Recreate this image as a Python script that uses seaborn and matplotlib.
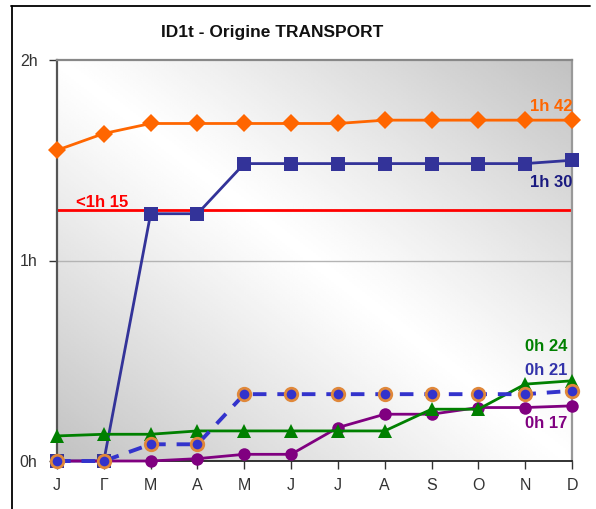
import numpy as np
import pandas as pd
import matplotlib
matplotlib.use("Agg")
import matplotlib.pyplot as plt
from matplotlib.lines import Line2D
import seaborn as sns

# months (tick labels as they appear on the chart)
months = ["J", "Γ", "M", "A", "M", "J", "J", "A", "S", "O", "N", "D"]

# values in minutes
orange_min = [93, 98, 101, 101, 101, 101, 101, 102, 102, 102, 102, 102]
navy_min = [0, 0, 74, 74, 89, 89, 89, 89, 89, 89, 89, 90]
green_min = [7.5, 8, 8, 9, 9, 9, 9, 9, 15.5, 15.5, 23, 24]
blue_min = [0, 0, 5, 5, 20, 20, 20, 20, 20, 20, 20, 21]
purple_min = [0, 0, 0, 0.7, 2, 2, 10, 14, 14, 16, 16, 16.5]
target_min = 75

sns.set_theme(style="white")
plt.rcParams["font.family"] = ["Liberation Sans", "DejaVu Sans"]

fig = plt.figure(figsize=(5.96, 5.09), dpi=100)
ax = fig.add_axes([57 / 596, 48 / 509, 515 / 596, 401 / 509])

# diagonal grey gradient background
u, v = np.meshgrid(np.linspace(0, 1, 200), np.linspace(0, 1, 200))
g = 1 - 0.24 * np.abs(u + v - 1) ** 1.1
ax.imshow(g, extent=[0, 1, 0, 1], transform=ax.transAxes, origin="lower",
          cmap="gray", vmin=0, vmax=1, aspect="auto", zorder=0,
          interpolation="bilinear")

x = np.arange(len(months))
df = pd.DataFrame({
    "x": x,
    "orange": np.array(orange_min) / 60,
    "navy": np.array(navy_min) / 60,
    "green": np.array(green_min) / 60,
    "blue": np.array(blue_min) / 60,
    "purple": np.array(purple_min) / 60,
})

ax.axhline(1, color="#b4b4b4", lw=1, zorder=1)
ax.axhline(target_min / 60, color="#ff0000", lw=2, zorder=2)

sns.lineplot(data=df, x="x", y="orange", ax=ax, color="#ff6600", lw=2,
             marker="D", markersize=9, markeredgewidth=0, zorder=3,
             clip_on=False)
sns.lineplot(data=df, x="x", y="navy", ax=ax, color="#333399", lw=2,
             marker="s", markersize=9.5, markeredgewidth=0, zorder=3,
             clip_on=False)
sns.lineplot(data=df, x="x", y="purple", ax=ax, color="#800080", lw=2,
             marker="o", markersize=9, markeredgewidth=0, zorder=4,
             clip_on=False)
sns.lineplot(data=df, x="x", y="green", ax=ax, color="#008000", lw=2,
             marker="^", markersize=10, markeredgewidth=0, zorder=4,
             clip_on=False)
sns.lineplot(data=df, x="x", y="blue", ax=ax, color="#3333cc", lw=2.8,
             linestyle=(0, (3.5, 2.8)), marker="o", markersize=9,
             markerfacecolor="#3333cc", markeredgecolor="#e0883a",
             markeredgewidth=2, zorder=5, clip_on=False)

ax.set_xlim(0, 11)
ax.set_ylim(0, 2)
ax.set_xticks(x)
ax.set_xticklabels(months)
ax.set_yticks([0, 1, 2])
ax.set_yticklabels(["0h", "1h", "2h"])
ax.set_xlabel("")
ax.set_ylabel("")
ax.tick_params(axis="both", which="both", direction="out", length=6,
               width=1, color="#333333", labelsize=11.5,
               labelcolor="#333333")
ax.tick_params(axis="x", pad=6, bottom=True)
ax.tick_params(axis="y", pad=8, left=True)

for side, col, lw in [("left", "#555555", 1.6), ("bottom", "#222222", 1.3),
                      ("top", "#888888", 1.6), ("right", "#999999", 1.6)]:
    ax.spines[side].set_color(col)
    ax.spines[side].set_linewidth(lw)
    ax.spines[side].set_visible(True)

# value labels
lab = dict(fontsize=12, fontweight="bold", va="center", zorder=6)
ax.text(11, 1.77, "1h 42", color="#ff6600", ha="right", **lab)
ax.text(11, 1.39, "1h 30", color="#1a1a80", ha="right", **lab)
ax.text(0.4, 1.29, "<1h 15", color="#ff0000", ha="left", **lab)
ax.text(10.9, 0.57, "0h 24", color="#008000", ha="right", **lab)
ax.text(10.9, 0.45, "0h 21", color="#3333aa", ha="right", **lab)
ax.text(10.9, 0.185, "0h 17", color="#800080", ha="right", **lab)

fig.text(272 / 596, 1 - 32 / 509, "ID1t - Origine TRANSPORT", ha="center",
         va="center", fontsize=12.5, fontweight="bold", color="#111111")

# outer frame (top and left only)
fig.add_artist(Line2D([11 / 596, 590 / 596], [1 - 6 / 509, 1 - 6 / 509],
                      transform=fig.transFigure, color="black", lw=1.3))
fig.add_artist(Line2D([12 / 596, 12 / 596], [1 - 6 / 509, 0],
                      transform=fig.transFigure, color="black", lw=1.3))

fig.savefig("out.png", dpi=100)
